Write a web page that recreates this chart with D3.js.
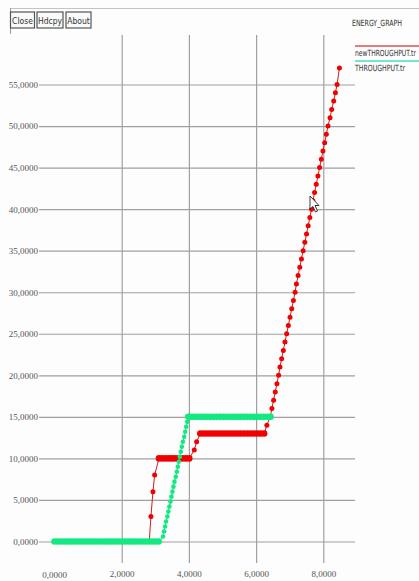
<!DOCTYPE html>
<html>
<head>
<meta charset="utf-8">
<script src="https://cdn.jsdelivr.net/npm/d3@7"></script>
<style>
  html, body { margin: 0; padding: 0; background: #fdfdfd; }
  svg { display: block; }
</style>
</head>
<body>
<svg id="chart" width="419" height="581"></svg>
<script>
// tick values and labels
const xTicks = [0, 2, 4, 6, 8];
const yTicks = [0, 5, 10, 15, 20, 25, 30, 35, 40, 45, 50, 55];
const buttonLabels = ["Close", "Hdcpy", "About"];
const graphTitle = "ENERGY_GRAPH";
const seriesNames = ["newTHROUGHPUT.tr", "THROUGHPUT.tr"];

// newTHROUGHPUT.tr (red)
const newThroughputX = [2.82, 2.87, 2.93, 2.98,
  3.11, 3.21, 3.31, 3.41, 3.51, 3.61, 3.71, 3.81, 3.91, 4.01,
  4.16, 4.23,
  4.34, 4.44, 4.54, 4.64, 4.74, 4.84, 4.94, 5.04, 5.14, 5.24,
  5.34, 5.44, 5.54, 5.64, 5.74, 5.84, 5.94, 6.04, 6.14, 6.24,
  6.32, 6.42, 6.47, 6.52, 6.57, 6.62, 6.67, 6.71, 6.76, 6.81, 6.86,
  6.91, 6.96, 7.01, 7.06, 7.11, 7.16, 7.20, 7.25, 7.30, 7.35,
  7.40, 7.45, 7.50, 7.55, 7.60, 7.65, 7.69, 7.74, 7.79, 7.84,
  7.89, 7.94, 7.99, 8.04, 8.09, 8.14, 8.20, 8.25, 8.31, 8.36,
  8.41, 8.48];
const newThroughputY = [0, 3, 6, 8,
  10, 10, 10, 10, 10, 10, 10, 10, 10, 10,
  11, 12,
  13, 13, 13, 13, 13, 13, 13, 13, 13, 13,
  13, 13, 13, 13, 13, 13, 13, 13, 13, 13,
  14, 15, 16, 17, 18, 19, 20, 21, 22, 23, 24,
  25, 26, 27, 28, 29, 30, 31, 32, 33, 34,
  35, 36, 37, 38, 39, 40, 41, 42, 43, 44,
  45, 46, 47, 48, 49, 50, 51, 52, 53, 54,
  55, 57];

// THROUGHPUT.tr (green)
const throughputX = [0, 0.1, 0.2, 0.3, 0.4, 0.5, 0.6, 0.7, 0.8, 0.9,
  1.0, 1.1, 1.2, 1.3, 1.4, 1.5, 1.6, 1.7, 1.8, 1.9,
  2.0, 2.1, 2.2, 2.3, 2.4, 2.5, 2.6, 2.7, 2.8, 2.9,
  3.0, 3.1,
  3.23, 3.26, 3.29, 3.32, 3.36, 3.39, 3.42, 3.45, 3.48, 3.51,
  3.54, 3.57, 3.61, 3.64, 3.67, 3.70, 3.73, 3.76, 3.79, 3.82,
  3.86, 3.89, 3.92, 3.95, 3.98,
  4.03, 4.13, 4.23, 4.33, 4.43, 4.53, 4.63, 4.73, 4.83, 4.93,
  5.03, 5.13, 5.23, 5.33, 5.43, 5.53, 5.63, 5.73, 5.83, 5.93,
  6.03, 6.13, 6.23, 6.33, 6.43];
const throughputY = [0, 0, 0, 0, 0, 0, 0, 0, 0, 0,
  0, 0, 0, 0, 0, 0, 0, 0, 0, 0,
  0, 0, 0, 0, 0, 0, 0, 0, 0, 0,
  0, 0,
  0.6, 1.2, 1.8, 2.4, 3.0, 3.6, 4.2, 4.8, 5.4, 6.0,
  6.6, 7.2, 7.8, 8.4, 9.0, 9.6, 10.2, 10.8, 11.4, 12.0,
  12.6, 13.2, 13.8, 14.4, 15.0,
  15, 15, 15, 15, 15, 15, 15, 15, 15, 15,
  15, 15, 15, 15, 15, 15, 15, 15, 15, 15,
  15, 15, 15, 15, 15];

const svg = d3.select("#chart");

// comma decimal, four places: "55,0000"
const locale = d3.formatLocale({ decimal: ",", thousands: ".", grouping: [3], currency: ["", ""] });
const fmt = locale.format(".4f");

const x = d3.scaleLinear().domain([0, 8]).range([54.5, 323.3]);
const y = d3.scaleLinear().domain([0, 55]).range([541.5, 84.5]);

const labelFont = "'Liberation Serif', 'DejaVu Serif', serif";
const smallFont = "'Liberation Sans Narrow', 'DejaVu Sans Condensed', 'DejaVu Sans', sans-serif";

// squeeze a narrow-font label horizontally to a target width
function squeeze(sel, x0, width) {
  sel.each(function() {
    const w = this.getComputedTextLength();
    const k = Math.min(1, width / w);
    d3.select(this).attr("x", 0).attr("transform", `translate(${x0},0) scale(${k},1)`);
  });
}

// window frame bits
svg.append("line").attr("x1", 10).attr("x2", 419).attr("y1", 8.5).attr("y2", 8.5)
  .attr("stroke", "#c4c4c4").attr("stroke-width", 1);
svg.append("line").attr("x1", 10.5).attr("x2", 10.5).attr("y1", 8).attr("y2", 34)
  .attr("stroke", "#9a9a9a").attr("stroke-width", 1);

// buttons
const btnX = [10.5, 37, 66];
const btnW = [24, 26, 25];
const btn = svg.append("g").selectAll("g").data(buttonLabels).enter().append("g")
  .attr("transform", (d, i) => `translate(${btnX[i]},12)`);
btn.append("rect").attr("width", (d, i) => btnW[i]).attr("height", 16)
  .attr("fill", "#fafafa").attr("stroke", "#555").attr("stroke-width", 1.2);
btn.append("text").attr("x", (d, i) => btnW[i] / 2).attr("y", 11.5)
  .attr("text-anchor", "middle").attr("font-family", smallFont).attr("font-size", 8.5)
  .attr("fill", "#333").text(d => d);

// title
svg.append("text").attr("y", 26).attr("font-family", smallFont)
  .attr("font-size", 8.5).attr("fill", "#333").text(graphTitle)
  .call(squeeze, 352, 50);

// horizontal grid + y labels
const yAxis = svg.append("g").attr("transform", "translate(355,0)")
  .call(d3.axisLeft(y).tickValues(yTicks).tickSize(316).tickPadding(1).tickFormat(fmt));
yAxis.select(".domain").remove();
yAxis.selectAll("line").attr("stroke", "#a0a0a0").attr("stroke-width", 1.2);
yAxis.selectAll("text").attr("fill", "#555").attr("font-family", labelFont).attr("font-size", 9);

// vertical grid + x labels
const xAxis = svg.append("g").attr("transform", "translate(0,35)")
  .call(d3.axisBottom(x).tickValues(xTicks.filter(d => d > 0)).tickSize(528).tickPadding(8).tickFormat(fmt));
xAxis.select(".domain").remove();
xAxis.selectAll("line").attr("stroke", "#a0a0a0").attr("stroke-width", 1.2);
xAxis.selectAll("text").attr("fill", "#555").attr("font-family", labelFont).attr("font-size", 9);
// the 0 label has no grid line
svg.append("text").attr("x", x(0)).attr("y", 578).attr("text-anchor", "middle")
  .attr("fill", "#555").attr("font-family", labelFont).attr("font-size", 9).text(fmt(xTicks[0]));

// series
const series = [
  { name: seriesNames[0], xs: newThroughputX, ys: newThroughputY, dot: "#f00000", line: "#c82020", key: "#e05050", r: 2.5 },
  { name: seriesNames[1], xs: throughputX, ys: throughputY, dot: "#14e882", line: "#14e882", key: "#40e0c0", r: 2.3 }
];

const line = d3.line().x(d => x(d[0])).y(d => y(d[1]));

series.forEach(s => {
  const pts = s.xs.map((v, i) => [v, s.ys[i]]);
  // points sitting on a flat run merge into a thick band
  const flat = (d, i) => (i > 0 && pts[i - 1][1] === d[1]) || (i < pts.length - 1 && pts[i + 1][1] === d[1]);
  const g = svg.append("g");
  g.append("path").datum(pts).attr("d", line)
    .attr("fill", "none").attr("stroke", s.line).attr("stroke-width", 1);
  g.selectAll("circle").data(pts).enter().append("circle")
    .attr("cx", d => x(d[0])).attr("cy", d => y(d[1]))
    .attr("r", (d, i) => flat(d, i) ? 3.3 : s.r)
    .attr("fill", s.dot);
});

// legend (right side)
const leg = svg.append("g").selectAll("g").data(series).enter().append("g")
  .attr("transform", (d, i) => `translate(0,${46 + i * 15})`);
leg.append("line").attr("x1", 355).attr("x2", 419).attr("y1", 0).attr("y2", 0)
  .attr("stroke", d => d.key).attr("stroke-width", 1.5);
leg.append("text").attr("y", 10).attr("font-family", smallFont)
  .attr("font-size", 8.5).attr("fill", "#333")
  .text(d => d.name)
  .call(squeeze, 355, 61);
// keep the second key to its own width
leg.filter((d, i) => i === 1).select("text").call(squeeze, 355, 50);

// mouse pointer left on the graph
svg.append("path")
  .attr("d", "M310,196 L310,209 L313,206.5 L315.5,212 L317.5,211 L315,205.5 L319,205.5 Z")
  .attr("fill", "#fff").attr("stroke", "#222").attr("stroke-width", 0.9);
</script>
</body>
</html>
